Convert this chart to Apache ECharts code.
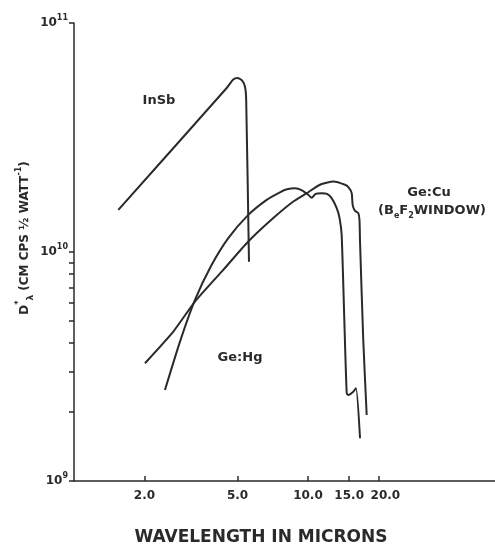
<!DOCTYPE html>
<html>
<head>
<meta charset="utf-8">
<script src="https://cdn.jsdelivr.net/npm/echarts@6/dist/echarts.min.js"></script>
<style>
  html, body { margin: 0; padding: 0; background: #fff; }
  #main { width: 495px; height: 547px; }
</style>
</head>
<body>
<div id="main"></div>
<script>
// wavelength (microns) and D* values
var insbWave = [1.547, 4.494, 4.78, 4.996, 5.224, 5.38, 5.444, 5.596];
var insbD = [1.528e10, 5.20e10, 5.65e10, 5.75e10, 5.62e10, 5.27e10, 4.62e10, 9.06e9];

var geHgWave = [2.448, 2.838, 3.289, 3.877, 4.565, 5.558, 6.661, 7.59, 8.134, 8.8, 9.426, 10.03, 10.37,
  10.77, 11.44, 12.06, 12.6, 13.27, 13.64, 13.93, 14.25, 14.64, 14.87, 15.62, 16.04, 16.69];
var geHgD = [2.498e9, 4.061e9, 6.178e9, 8.788e9, 1.15e10, 1.453e10, 1.690e10, 1.823e10, 1.878e10, 1.897e10,
  1.859e10, 1.777e10, 1.724e10, 1.795e10, 1.807e10, 1.795e10, 1.724e10, 1.555e10, 1.41e10, 1.188e10,
  5.702e9, 2.416e9, 2.376e9, 2.456e9, 2.542e9, 1.537e9];

var geCuWave = [2.011, 2.657, 3.289, 4.345, 5.558, 7.108, 8.655, 9.872, 11.25, 12.83, 14.39, 14.97, 15.38,
  15.52, 15.88, 16.41, 16.6, 16.69, 17.23, 17.82];
var geCuD = [3.268e9, 4.491e9, 6.074e9, 8.356e9, 1.111e10, 1.406e10, 1.661e10, 1.807e10, 1.966e10, 2.032e10,
  1.966e10, 1.907e10, 1.807e10, 1.607e10, 1.513e10, 1.479e10, 1.382e10, 1.111e10, 4.131e9, 1.943e9];

var xTickValues = [2, 5, 10, 15, 20];
var xLabelsMain = [2, 5, 10, 15];
var xLabelsLast = [20];   // printed a little right of its tick in the original
var yMajorValues = [1e9, 1e10, 1e11];
var yMinorValues = [2e9, 3e9, 4e9, 5e9, 6e9, 7e9, 8e9, 9e9];

var xMin = 1, xMax = 63;
var yMin = 1e9, yMax = 1e11;

var FONT = 'DejaVu Sans';
var INK = '#2a2a2a';

function toLog(wave, d) {
  var out = [];
  for (var i = 0; i < wave.length; i++) {
    out.push([Math.log10(wave[i]), Math.log10(d[i])]);
  }
  return out;
}

function curve(name, wave, d) {
  return {
    name: name,
    type: 'line',
    data: toLog(wave, d),
    symbol: 'none',
    smooth: 0.2,
    lineStyle: { color: INK, width: 2 }
  };
}

function xLabelStyle(values, pad) {
  return {
    customValues: values.map(Math.log10),
    hideOverlap: false,
    margin: 9,
    padding: pad || 0,
    color: INK,
    fontFamily: FONT, fontWeight: 'bold', fontSize: 12,
    formatter: function (v) { return Math.pow(10, v).toFixed(1); }
  };
}

var chart = echarts.init(document.getElementById('main'));

chart.setOption({
  animation: false,
  backgroundColor: '#fff',
  grid: { left: 74, right: 0, top: 23, bottom: 66 },
  xAxis: [{
    type: 'value',
    position: 'bottom',
    min: Math.log10(xMin),
    max: Math.log10(xMax),
    axisLine: { lineStyle: { color: INK, width: 1.5 } },
    axisTick: {
      inside: true, length: 5,
      customValues: xTickValues.map(Math.log10),
      lineStyle: { color: INK, width: 1.5 }
    },
    axisLabel: xLabelStyle(xLabelsMain),
    splitLine: { show: false }
  }, {
    type: 'value',
    position: 'bottom',
    offset: 0,
    min: Math.log10(xMin),
    max: Math.log10(xMax),
    axisLine: { show: false },
    axisTick: { show: false },
    axisLabel: xLabelStyle(xLabelsLast, [0, 0, 0, 14]),
    splitLine: { show: false }
  }],
  yAxis: {
    type: 'value',
    min: Math.log10(yMin),
    max: Math.log10(yMax),
    axisLine: { show: true, lineStyle: { color: INK, width: 1.5 } },
    axisTick: {
      show: true, length: 5,
      customValues: yMajorValues.concat(yMinorValues).map(Math.log10),
      lineStyle: { color: INK, width: 1.5 }
    },
    axisLabel: {
      customValues: yMajorValues.map(Math.log10),
      margin: 6,
      formatter: function (v) { return '{b|10}{s|' + Math.round(v) + '}'; },
      rich: {
        b: { fontFamily: FONT, fontWeight: 'bold', fontSize: 12, color: INK, lineHeight: 18 },
        s: { fontFamily: FONT, fontWeight: 'bold', fontSize: 8, color: INK, verticalAlign: 'top', lineHeight: 10 }
      }
    },
    splitLine: { show: false }
  },
  series: [
    curve('InSb', insbWave, insbD),
    curve('Ge:Hg', geHgWave, geHgD),
    curve('Ge:Cu', geCuWave, geCuD)
  ],
  graphic: [
    {
      type: 'text', x: 159, y: 101,
      style: { text: 'InSb', font: 'bold 13px ' + FONT, fill: INK, align: 'center', verticalAlign: 'middle' }
    },
    {
      type: 'text', x: 240, y: 358,
      style: { text: 'Ge:Hg', font: 'bold 13px ' + FONT, fill: INK, align: 'center', verticalAlign: 'middle' }
    },
    {
      type: 'text', x: 429, y: 193,
      style: { text: 'Ge:Cu', font: 'bold 13px ' + FONT, fill: INK, align: 'center', verticalAlign: 'middle' }
    },
    {
      type: 'text', x: 432, y: 211,
      style: {
        text: '{m|(B}{u|e}{m|F}{u|2}{m|WINDOW)}',
        align: 'center', verticalAlign: 'middle',
        rich: {
          m: { fontFamily: FONT, fontWeight: 'bold', fontSize: 13, fill: INK, lineHeight: 18 },
          u: { fontFamily: FONT, fontWeight: 'bold', fontSize: 8, fill: INK, verticalAlign: 'bottom', lineHeight: 10 }
        }
      }
    },
    {
      type: 'text', x: 25, y: 238, rotation: Math.PI / 2,
      style: {
        text: '{m|D}{p|*}{u|λ}{m| (CM CPS ½ WATT}{p|-1}{m|)}',
        align: 'center', verticalAlign: 'middle',
        rich: {
          m: { fontFamily: FONT, fontWeight: 'bold', fontSize: 12, fill: INK, lineHeight: 20 },
          p: { fontFamily: FONT, fontWeight: 'bold', fontSize: 8, fill: INK, verticalAlign: 'top', lineHeight: 10 },
          u: { fontFamily: FONT, fontWeight: 'bold', fontSize: 9, fill: INK, verticalAlign: 'bottom', lineHeight: 10 }
        }
      }
    },
    {
      type: 'text', x: 261, y: 538,
      style: { text: 'WAVELENGTH IN MICRONS', font: 'bold 17px ' + FONT, fill: INK, align: 'center', verticalAlign: 'middle' }
    }
  ]
});
</script>
</body>
</html>
